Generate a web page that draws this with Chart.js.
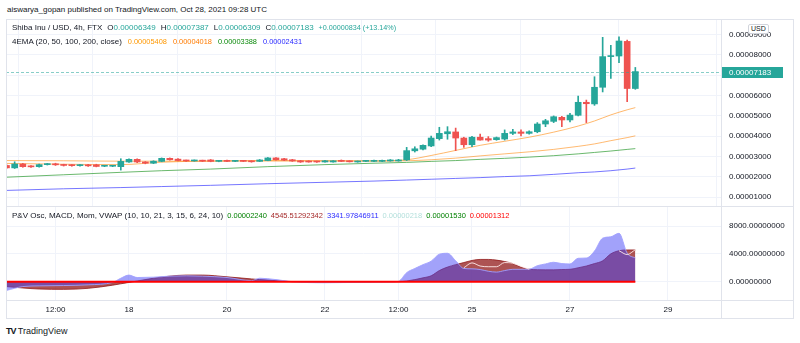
<!DOCTYPE html>
<html>
<head>
<meta charset="utf-8">
<script src="https://cdn.jsdelivr.net/npm/chart.js@4.4.1/dist/chart.umd.min.js"></script>
<style>
  html, body { margin: 0; padding: 0; background: #fff; }
  body { width: 800px; height: 343px; position: relative; overflow: hidden;
         font-family: "Liberation Sans", Arial, sans-serif; color: #131722; }
  .abs { position: absolute; }
  .txt { font-size: 8px; line-height: 10px; white-space: nowrap; }
  .lg span { margin-left: 6px; }
  .lg span.k { margin-left: 0; }
  .ohlc span { margin-left: 5px; }
  .ohlc span.k { margin-left: 0; }
  .osc span { font-size: 7.5px; margin-left: 4px; }
  .ema span { font-size: 7.4px; }
  .up { color: #26a69a; }
  .line { background: #e0e3eb; pointer-events: none; }
  canvas { position: absolute; }
</style>
</head>
<body>
<div class="abs txt" style="left:7px;top:5px">aiswarya_gopan published on TradingView.com, Oct 28, 2021 09:28 UTC</div>

<canvas id="main" width="788" height="187" style="left:6px;top:19px;width:788px;height:187px"></canvas>
<canvas id="osc" width="788" height="113" style="left:6px;top:206px;width:788px;height:113px"></canvas>

<div class="abs" style="left:6px;top:19px;width:788px;height:300px;border:1px solid #e0e3eb;box-sizing:border-box;pointer-events:none"></div>
<div class="abs line" style="left:6px;top:206px;width:788px;height:1px"></div>
<div class="abs line" style="left:6px;top:300px;width:788px;height:1px"></div>
<div class="abs line" style="left:721px;top:19px;width:1px;height:300px"></div>

<div class="abs txt ohlc" style="left:12px;top:23px">Shiba Inu / USD, 4h, FTX<span>O</span><span class="up k">0.00006349</span><span>H</span><span class="up k">0.00007387</span><span>L</span><span class="up k">0.00006309</span><span>C</span><span class="up k">0.00007183</span><span class="up" style="font-size:7.2px">+0.00000834 (+13.14%)</span></div>
<div class="abs txt lg ema" style="left:12px;top:37px">4EMA (20, 50, 100, 200, close)<span style="color:#ff9800">0.00005408</span><span style="color:#ff7b00">0.00004018</span><span style="color:#0b8a0b">0.00003388</span><span style="color:#2a2aff">0.00002431</span></div>
<div class="abs txt osc" style="left:12px;top:211px">P&amp;V Osc, MACD, Mom, VWAP (10, 10, 21, 3, 15, 6, 24, 10)<span style="color:#008000">0.00002240</span><span style="color:#a52a2a">4545.51292342</span><span style="color:#2a2aff">3341.97846911</span><span style="color:#b2dfdb">0.00000218</span><span style="color:#008000">0.00001530</span><span style="color:#ff0000">0.00001312</span></div>

<div class="abs txt" style="left:748px;top:24px;padding:0 2px;background:#fff;border:1px solid #d1d4dc;border-radius:2px;font-size:7px;line-height:8px">USD</div>

<div class="abs" style="left:6px;top:326px;font-size:9px;line-height:10px;white-space:nowrap"><b style="letter-spacing:-1px">TV</b> TradingView</div>

<script>
// 4h candles of SHIB/USD (FTX); bar index 0 = Oct 18 00:00 UTC, first bar = Oct 15 12:00
// prices in units of 0.00001 USD
const firstBar = -15
const opens = [
    2.56, 2.44, 2.63, 2.52, 2.50, 2.60, 2.64, 2.60, 2.57, 2.55,
    2.59, 2.59, 2.52, 2.52, 2.50, 2.73, 2.86, 2.73, 2.67, 2.76,
    2.91, 2.87, 2.81, 2.78, 2.80, 2.83, 2.76, 2.80, 2.76, 2.78,
    2.77, 2.76, 2.80, 2.93, 2.89, 2.84, 2.79, 2.77, 2.76, 2.73,
    2.73, 2.81, 2.77, 2.73, 2.76, 2.76, 2.76, 2.78, 2.78, 2.83,
    3.28, 3.36, 3.52, 3.88, 4.12, 4.21, 3.91, 3.58, 3.95, 3.88,
    3.83, 3.86, 4.14, 4.21, 4.14, 4.22, 4.60, 4.73, 4.93, 4.80,
    5.03, 5.67, 5.59, 6.41, 7.92, 7.95, 8.67, 6.349]
const highs = [
    2.60, 2.74, 2.66, 2.55, 2.63, 2.66, 2.67, 2.62, 2.60, 2.60,
    2.61, 2.62, 2.56, 2.56, 2.89, 2.89, 2.88, 2.75, 2.79, 2.93,
    2.93, 2.90, 2.83, 2.83, 2.82, 2.85, 2.81, 2.82, 2.80, 2.80,
    2.79, 2.85, 2.95, 2.95, 2.91, 2.86, 2.81, 2.79, 2.77, 2.81,
    2.80, 2.83, 2.79, 2.78, 2.80, 2.82, 2.83, 2.85, 2.86, 3.45,
    3.48, 3.58, 4.00, 4.44, 4.47, 4.40, 3.95, 3.99, 4.11, 3.98,
    3.96, 4.31, 4.34, 4.31, 4.26, 4.67, 4.83, 5.00, 4.98, 5.13,
    5.98, 5.78, 6.93, 8.87, 8.48, 8.90, 8.74, 7.387]
const lows = [
    2.40, 2.41, 2.47, 2.46, 2.48, 2.58, 2.56, 2.53, 2.52, 2.53,
    2.51, 2.49, 2.50, 2.50, 2.33, 2.71, 2.70, 2.64, 2.65, 2.74,
    2.82, 2.78, 2.76, 2.77, 2.75, 2.74, 2.74, 2.74, 2.75, 2.75,
    2.72, 2.75, 2.79, 2.82, 2.80, 2.76, 2.71, 2.72, 2.71, 2.72,
    2.72, 2.75, 2.73, 2.72, 2.75, 2.75, 2.75, 2.77, 2.77, 2.80,
    3.22, 3.33, 3.48, 3.81, 3.85, 3.29, 3.45, 3.48, 3.80, 3.75,
    3.80, 3.81, 4.08, 4.01, 4.10, 4.17, 4.47, 4.67, 4.47, 4.70,
    5.00, 4.67, 5.52, 6.18, 6.85, 7.62, 5.70, 6.309]
const closes = [
    2.44, 2.63, 2.50, 2.49, 2.60, 2.64, 2.59, 2.56, 2.55, 2.58,
    2.54, 2.51, 2.54, 2.54, 2.76, 2.86, 2.73, 2.67, 2.77, 2.91,
    2.84, 2.80, 2.78, 2.81, 2.77, 2.76, 2.79, 2.76, 2.78, 2.76,
    2.74, 2.83, 2.93, 2.84, 2.82, 2.78, 2.73, 2.73, 2.73, 2.79,
    2.79, 2.76, 2.74, 2.77, 2.79, 2.81, 2.81, 2.83, 2.83, 3.29,
    3.38, 3.55, 3.91, 4.14, 4.22, 3.91, 3.58, 3.95, 3.81, 3.81,
    3.93, 4.14, 4.21, 4.14, 4.22, 4.60, 4.76, 4.96, 4.80, 5.04,
    5.67, 5.60, 6.41, 7.92, 7.97, 8.69, 6.349, 7.183]

// EMA readings (same units), sampled at these bars
const emaBars = [-15, -8, -1, 4, 10, 17, 24, 30, 34, 37, 40, 43, 46, 49, 52, 55, 57, 59, 61, 62]
const ema20 = [2.66, 2.62, 2.60, 2.72, 2.78, 2.80, 2.79, 2.78, 2.84, 3.05, 3.30, 3.55, 3.75, 3.95, 4.20, 4.50, 4.75, 5.05, 5.30, 5.408]
const ema50 = [2.80, 2.79, 2.77, 2.77, 2.77, 2.78, 2.78, 2.78, 2.79, 2.84, 2.92, 3.03, 3.13, 3.23, 3.35, 3.50, 3.62, 3.78, 3.93, 4.018]
const ema100 = [1.98, 2.10, 2.22, 2.30, 2.38, 2.50, 2.60, 2.67, 2.71, 2.76, 2.80, 2.86, 2.91, 2.97, 3.04, 3.13, 3.20, 3.27, 3.35, 3.388]
const ema200 = [1.33, 1.41, 1.47, 1.52, 1.58, 1.66, 1.73, 1.79, 1.84, 1.88, 1.92, 1.96, 2.01, 2.05, 2.12, 2.20, 2.24, 2.30, 2.38, 2.431]

// lower pane: P&V Osc / MACD / Mom / VWAP
const oscBars = [-15, -13, -11, -8, -5, -2, -1, 0, 1, 3, 5, 7, 9, 12, 15, 16, 18, 20, 24, 28, 32,
    33, 34, 35, 36, 37, 38, 39, 40, 41, 42, 43, 44, 45, 46, 47, 48, 49, 50, 51, 52,
    53, 54, 55, 56, 57, 58, 59, 60, 61, 62]
const momValues = [-1250, -700, -600, -550, -450, -100, 500, 950, 600, 650, 800, 850, 800, 600, 150, 500, 300, 0, -150, -100, -50,
    50, 1300, 1900, 2450, 2950, 3950, 4080, 3000, 1900, 1850, 1750, 1500, 1380, 1600, 1780, 1780, 1800, 2300, 2550, 2790,
    2600, 2545, 3360, 3400, 4400, 6250, 6450, 6950, 4100, 3400]
const macdValues = [-700, -900, -1050, -1100, -950, -500, -300, -100, 100, 500, 800, 950, 950, 700, 400, 300, 150, 0, 0, 0, 0,
    0, 100, 300, 550, 850, 1600, 2100, 2450, 2750, 3050, 3200, 3200, 3100, 2900, 2600, 2100, 1780, 1720, 1700, 1700,
    1750, 1780, 2000, 2250, 2600, 3000, 4000, 4450, 4560, 4560]
const vwapBars = [41, 42, 43, 44, 45, 46, 47, 48, 49, 55, 60, 61, 62]
const vwapValues = [2000, 2700, 2250, 2150, 2150, 2750, 2650, 2200, 1800, null, 4450, 3900, 4600]
const oscTicks = [0, 4000, 8000]

// time axis
const tickBars = [-9, 0, 12, 24, 33, 42, 54, 66]
const tickLabels = ['12:00', '18', '20', '22', '12:00', '25', '27', '29']

const xMin = -15.06, xMax = 72.49
const upColor = '#26a69a', downColor = '#ef5350'
const gridColor = '#f0f3fa'
const fontFamily = '"Liberation Sans", Arial, sans-serif'

Chart.defaults.font.family = fontFamily
Chart.defaults.font.size = 8
Chart.defaults.color = '#131722'

const pts = (xs, ys) => xs.map((x, i) => ({x: x, y: ys[i]}))
const candleX = closes.map((c, i) => firstBar + i)
const candleColors = closes.map((c, i) => c >= opens[i] ? upColor : downColor)
const fmtPrice = v => (v / 1e5).toFixed(8)

// no extra padding around the plot, the panes must fill their boxes
function noPad(s) {
    s.paddingTop = 0
    s.paddingBottom = 0
    s.paddingLeft = 0
    s.paddingRight = 0
}

function xScale(showLabels) {
    return {
        type: 'linear', min: xMin, max: xMax, offset: false,
        grid: { color: gridColor, drawTicks: false },
        border: { display: false },
        afterBuildTicks: s => { s.ticks = tickBars.map(v => ({value: v})) },
        afterFit: s => { s.height = showLabels ? 19 : 0; noPad(s) },
        ticks: {
            display: showLabels, autoSkip: false, maxRotation: 0, padding: 5,
            callback: (v, i) => tickLabels[i]
        }
    }
}

const lastPrice = {
    id: 'lastPrice',
    afterDatasetsDraw(chart) {
        const {ctx, chartArea, scales} = chart
        const y = Math.round(scales.y.getPixelForValue(closes[closes.length - 1])) + 0.5
        ctx.save()
        ctx.strokeStyle = 'rgba(38,166,154,0.55)'
        ctx.lineWidth = 1
        ctx.setLineDash([3, 2])
        ctx.beginPath()
        ctx.moveTo(chartArea.left, y)
        ctx.lineTo(chartArea.right, y)
        ctx.stroke()
        ctx.restore()
    },
    afterDraw(chart) {
        const {ctx, chartArea, scales} = chart
        const last = closes[closes.length - 1]
        const y = Math.round(scales.y.getPixelForValue(last))
        ctx.save()
        ctx.fillStyle = upColor
        ctx.fillRect(chartArea.right, y - 5, 62, 11)
        ctx.fillStyle = '#fff'
        ctx.font = '8px ' + fontFamily
        ctx.textBaseline = 'middle'
        ctx.fillText(fmtPrice(last), chartArea.right + 8, y + 0.5)
        ctx.restore()
    }
}

function emaLine(values, color, order) {
    return {
        type: 'line', data: pts(emaBars, values), borderColor: color, borderWidth: 1,
        pointRadius: 0, cubicInterpolationMode: 'monotone', order: order
    }
}

new Chart(document.getElementById('main'), {
    type: 'bar',
    data: {
        datasets: [
            emaLine(ema200, 'rgba(60,60,255,0.7)', 5),
            emaLine(ema100, 'rgba(56,160,60,0.75)', 5),
            emaLine(ema50, 'rgba(255,140,20,0.6)', 5),
            emaLine(ema20, 'rgba(255,160,60,0.75)', 5),
            {   // wicks
                data: candleX.map((x, i) => ({x: x, y: [lows[i], highs[i]]})),
                backgroundColor: candleColors, barThickness: 1, grouped: false, order: 2
            },
            {   // bodies
                data: candleX.map((x, i) => ({x: x, y: [opens[i], closes[i]]})),
                backgroundColor: candleColors, barThickness: 6, minBarLength: 1, grouped: false, order: 1
            }
        ]
    },
    options: {
        responsive: false, animation: false, events: [],
        plugins: { legend: { display: false }, tooltip: { enabled: false } },
        layout: { padding: 0 },
        scales: {
            x: xScale(false),
            y: {
                position: 'right', min: 0.562, max: 9.773,
                grid: { color: gridColor, drawTicks: false },
                border: { display: false },
                afterFit: s => { s.width = 73; noPad(s) },
                ticks: { stepSize: 1, includeBounds: false, padding: 8, callback: fmtPrice }
            }
        }
    },
    plugins: [lastPrice]
})

new Chart(document.getElementById('osc'), {
    type: 'line',
    data: {
        datasets: [
            {
                data: pts(oscBars, macdValues), fill: 'origin',
                backgroundColor: 'rgba(145,25,25,0.75)', borderColor: 'rgba(145,25,25,0.8)', borderWidth: 1,
                pointRadius: 0, cubicInterpolationMode: 'monotone', order: 4
            },
            {
                data: pts(oscBars, momValues), fill: 'origin',
                backgroundColor: 'rgba(70,70,245,0.5)', borderColor: 'rgba(160,160,255,0.9)', borderWidth: 1,
                pointRadius: 0, cubicInterpolationMode: 'monotone', order: 3
            },
            {
                data: pts(vwapBars, vwapValues), spanGaps: false,
                borderColor: 'rgba(255,235,235,0.9)', borderWidth: 1,
                pointRadius: 0, cubicInterpolationMode: 'monotone', order: 2
            },
            {
                data: [{x: firstBar, y: 0}, {x: firstBar + closes.length - 1, y: 0}],
                borderColor: '#ff0000', borderWidth: 2, pointRadius: 0, order: 1
            }
        ]
    },
    options: {
        responsive: false, animation: false, events: [],
        plugins: { legend: { display: false }, tooltip: { enabled: false } },
        layout: { padding: 0 },
        scales: {
            x: xScale(true),
            y: {
                position: 'right', min: -2628, max: 10873,
                grid: { color: gridColor, drawTicks: false },
                border: { display: false },
                afterFit: s => { s.width = 73; noPad(s) },
                afterBuildTicks: s => { s.ticks = oscTicks.map(v => ({value: v})) },
                ticks: { padding: 8, callback: v => v.toFixed(8) }
            }
        }
    }
})
</script>
</body>
</html>
